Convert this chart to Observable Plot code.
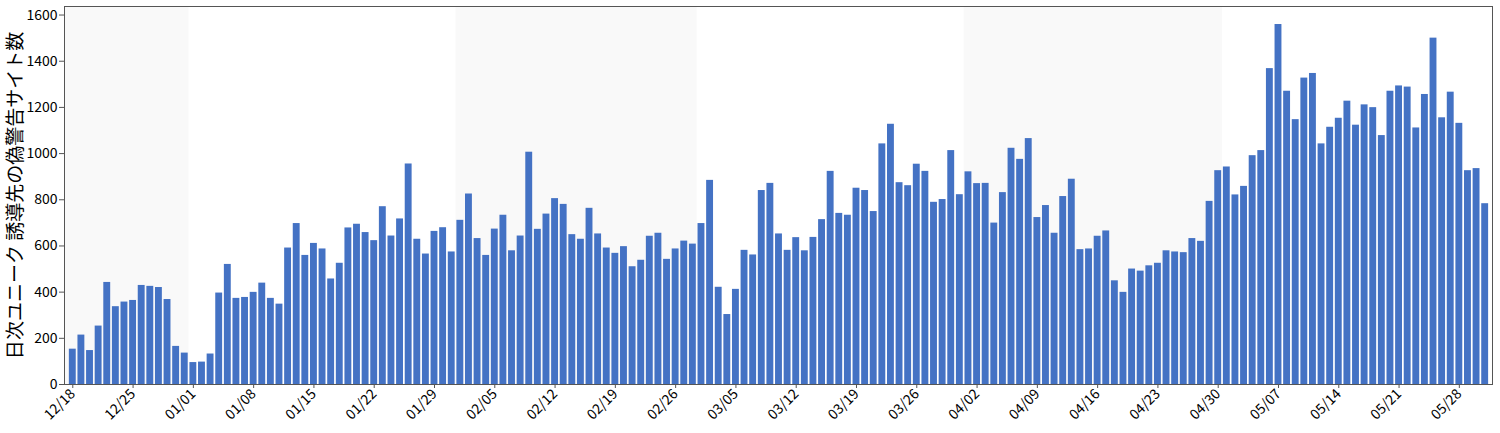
<!DOCTYPE html>
<html><head><meta charset="utf-8">
<script src="https://cdn.jsdelivr.net/npm/d3@7"></script>
<script src="https://cdn.jsdelivr.net/npm/@observablehq/plot@0.6"></script>
<style>
body{margin:0;background:#fff}
svg{font-family:"Noto Sans CJK JP","Noto Sans",sans-serif}
</style>
</head><body><div id="chart"></div>
<script>
const startDate = "2022-12-18";
const endDate = "2023-05-31";
const counts = [
  153,214,147,253,442,337,357,364,429,425,420,368,165,136,95,
  97,132,396,520,373,377,399,439,373,348,591,697,559,611,587,457,525,678,694,658,623,
  770,643,717,955,629,565,663,679,574,711,825,632,559,673,733,579,643,1006,672,738,805,780,649,629,763,652,591,568,597,510,538,642,655,542,587,621,608,697,884,421,303,412,581,
  561,840,871,652,581,636,579,637,714,923,741,733,850,840,749,1042,1127,874,861,954,923,789,801,1013,822,921,870,871,699,831,1023,975,1065,723,775,655,814,889,584,587,642,665,449,
  399,500,491,514,525,579,574,571,632,620,793,926,942,821,858,991,1013,1368,1559,1270,1147,1327,1347,1042,1114,1153,1227,1123,1211,1199,1078,1270,1293,1288,1111,1256,1500,1155,1266,1131,926,935,783
];
const shadedMonths = ["2022-12-01","2023-02-01","2023-04-01"];
const firstTick = "2022-12-18";
const lastTick = "2023-05-28";
const yTicks = [0,200,400,600,800,1000,1200,1400,1600];
const yLabel = "日次ユニーク 誘導先の偽警告サイト数";

const DAY = 864e5;
const start = new Date(startDate + "T00:00:00Z");
const end = new Date(endDate + "T00:00:00Z");
const dates = d3.utcDay.range(start, d3.utcDay.offset(end, 1));
const data = dates.map((d, i) => ({date: d, count: counts[i]}));
const months = shadedMonths.map(s => new Date(s + "T00:00:00Z"));
const xTicks = d3.utcSunday.range(new Date(firstTick + "T00:00:00Z"), d3.utcDay.offset(new Date(lastTick + "T00:00:00Z"), 1));

const chart = Plot.plot({
  width: 1500,
  height: 433,
  marginLeft: 64,
  marginRight: 8,
  marginTop: 6,
  marginBottom: 49,
  style: {fontFamily: '"Noto Sans CJK JP","Noto Sans",sans-serif', color: "#000", background: "#fff"},
  x: {type: "utc", domain: [new Date(+start - 0.963*DAY), new Date(+end + 0.85*DAY)]},
  y: {domain: [0, 1637]},
  marks: [
    Plot.rect(months, {
      x1: d => new Date(+d - 0.5*DAY),
      x2: d => new Date(+d3.utcMonth.offset(d, 1) - 0.5*DAY),
      fill: "#f9f9f9",
      clip: true
    }),
    Plot.rectY(data, {
      x1: d => new Date(+d.date - 0.4*DAY),
      x2: d => new Date(+d.date + 0.4*DAY),
      y: "count",
      fill: "#4472c4"
    }),
    Plot.axisX({ticks: xTicks, tickFormat: d3.utcFormat("%m/%d"), tickRotate: -45, tickSize: 4, tickPadding: 3, fontSize: 14, label: null, stroke: "#555"}),
    Plot.axisY({ticks: yTicks, tickFormat: d3.format("d"), tickSize: 5, tickPadding: 2, fontSize: 14, label: null, stroke: "#555"}),
    Plot.frame({stroke: "#555"}),
    Plot.text([yLabel], {frameAnchor: "left", textAnchor: "middle", rotate: -90, dx: -49, fontSize: 19, fill: "#000"})
  ]
});
document.getElementById("chart").appendChild(chart);
</script>
</body></html>
